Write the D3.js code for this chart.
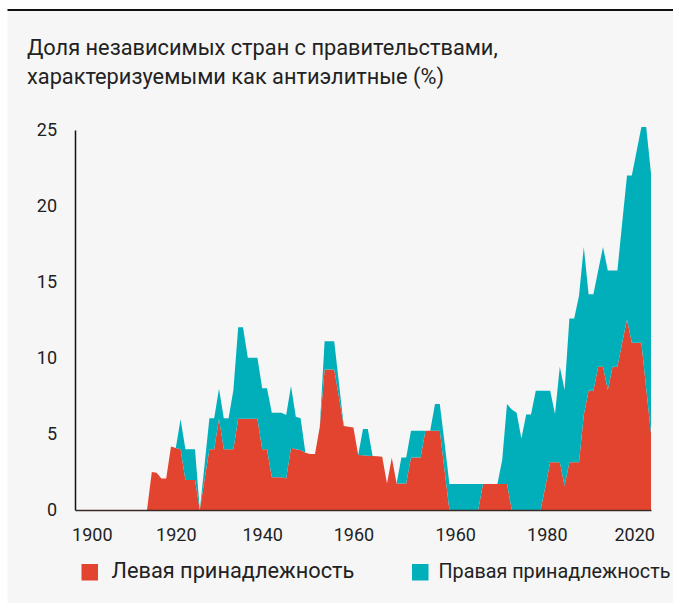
<!DOCTYPE html>
<html>
<head>
<meta charset="utf-8">
<script src="https://cdn.jsdelivr.net/npm/d3@7"></script>
<style>
  body { margin: 0; background: #fff; }
  svg { display: block; }
  .chart-text { font-family: Roboto, 'Open Sans', sans-serif; fill: #222; }
</style>
</head>
<body>
<div id="chart"></div>
<script>
// yearly values, 1900..2020, share of countries (%)
const years = d3.range(1900, 2021);

const leftShare = [
  0, 0, 0, 0, 0, 0, 0, 0, 0, 0,
  0, 0, 0, 0, 0, 0, 2.5, 2.45, 2.08, 2.08,
  4.17, 4.08, 4.0, 1.97, 1.97, 1.97, 0, 2.0, 4.0, 4.0,
  6.0, 4.0, 4.0, 4.0, 6.0, 6.0, 6.0, 6.0, 6.0, 4.0,
  4.0, 2.15, 2.15, 2.15, 2.08, 4.1, 4.0, 3.95, 3.77, 3.68,
  3.68, 5.48, 9.25, 9.25, 9.25, 7.4, 5.53, 5.48, 5.42, 3.62,
  3.6, 3.57, 3.55, 3.53, 3.51, 1.75, 3.44, 1.75, 1.75, 1.75,
  3.46, 3.46, 3.46, 5.22, 5.22, 5.22, 5.22, 2.6, 0, 0,
  0, 0, 0, 0, 0, 1.71, 1.71, 1.71, 1.71, 1.71,
  1.71, 0, 0, 0, 0, 0, 0, 0, 1.57, 3.14,
  3.14, 3.14, 1.6, 3.14, 3.14, 3.14, 6.25, 7.85, 7.85, 9.43,
  9.43, 7.9, 9.43, 9.43, 11.0, 12.54, 11.0, 11.0, 11.0, 8.0,
  5.04
];

const rightShare = [
  0, 0, 0, 0, 0, 0, 0, 0, 0, 0,
  0, 0, 0, 0, 0, 0, 0, 0, 0, 0,
  0, 0, 1.97, 2.02, 2.02, 2.02, 0, 1.0, 2.04, 2.04,
  1.97, 2.04, 2.04, 3.9, 6.03, 6.03, 4.01, 4.01, 4.01, 4.01,
  4.01, 4.25, 4.25, 4.25, 4.17, 4.06, 2.14, 2.08, 0, 0,
  0, 0, 1.85, 1.85, 1.85, 0.9, 0, 0, 0, 0,
  1.73, 1.76, 0, 0, 0, 0, 0, 0, 1.71, 1.71,
  1.76, 1.76, 1.76, 0, 0, 1.75, 1.75, 1.8, 1.71, 1.71,
  1.71, 1.71, 1.71, 1.71, 1.71, 0, 0, 0, 0, 1.58,
  5.26, 6.62, 6.4, 4.71, 6.29, 6.29, 7.85, 7.85, 6.28, 4.71,
  3.18, 6.29, 6.3, 9.46, 9.46, 10.96, 11.05, 6.35, 6.35, 6.32,
  7.87, 7.85, 6.32, 6.32, 7.9, 9.46, 11.0, 12.6, 14.2, 17.2,
  17.1
];

const seriesKeys = ['left', 'right'];
const seriesNames = ['Левая принадлежность', 'Правая принадлежность'];

const yTicks = [0, 5, 10, 15, 20, 25];
// x labels sit where the original put them (and with its labels, "1960" twice)
const xTickYears = [1903.5, 1921, 1939, 1958, 1979.2, 1998.3, 2016.5];
const xTickLabels = ['1900', '1920', '1940', '1960', '1960', '1980', '2020'];

const titleLines = [
  'Доля независимых стран с правительствами,',
  'характеризуемыми как антиэлитные (%)'
];

class AreaChart {

  constructor(_config) {
    this.config = {
      parentElement: _config.parentElement,
      containerWidth: 673,
      containerHeight: 603,
      margin: {top: 130, right: 22, bottom: 93, left: 75},
      colors: ['#e2442f', '#00afba'],
      bg: '#f6f6f6',
      legendX: [81.5, 412],
      legendWidth: [243, 232]
    };
    this.data = years.map((y, i) => ({year: y, left: leftShare[i], right: rightShare[i]}));
    this.initVis();
  }

  initVis() {
    let vis = this;
    const c = vis.config;
    c.width = c.containerWidth - c.margin.left - c.margin.right;
    c.height = c.containerHeight - c.margin.top - c.margin.bottom;

    vis.svg = d3.select(c.parentElement).append('svg')
        .attr('width', c.containerWidth)
        .attr('height', c.containerHeight);

    // grey panel + black rule on top
    vis.svg.append('rect')
        .attr('x', 7.5).attr('y', 10)
        .attr('width', c.containerWidth - 7.5)
        .attr('height', c.containerHeight - 10)
        .attr('fill', c.bg);
    vis.svg.append('line')
        .attr('x1', 7.5).attr('x2', c.containerWidth)
        .attr('y1', 10).attr('y2', 10)
        .attr('stroke', '#111').attr('stroke-width', 2);

    // title
    vis.title = vis.svg.append('g').attr('class', 'chart-text');
    vis.title.selectAll('text')
        .data(titleLines)
      .join('text')
        .attr('x', 27)
        .attr('y', (d, i) => 55 + i * 29)
        .attr('font-size', 20)
        .text(d => d);
    vis.fitFont(vis.title.selectAll('text'), vis.title.select('text').node(), 471);

    vis.chart = vis.svg.append('g')
        .attr('transform', `translate(${c.margin.left},${c.margin.top})`);

    vis.xScale = d3.scaleLinear()
        .domain([1900, 2020])
        .range([0, c.width]);
    vis.yScale = d3.scaleLinear()
        .domain([0, 25])
        .range([c.height, 0]);

    vis.stack = d3.stack().keys(seriesKeys);
    vis.area = d3.area()
        .x(d => vis.xScale(d.data.year))
        .y0(d => vis.yScale(d[0]))
        .y1(d => vis.yScale(d[1]));

    vis.renderVis();
  }

  // scale font size so that the reference node gets the wanted width
  fitFont(sel, node, targetWidth) {
    const w = node.getComputedTextLength();
    const fs = parseFloat(node.getAttribute('font-size'));
    sel.attr('font-size', fs * targetWidth / w);
  }

  renderVis() {
    let vis = this;
    const c = vis.config;

    vis.chart.selectAll('.layer')
        .data(vis.stack(vis.data))
      .join('path')
        .attr('class', 'layer')
        .attr('fill', (d, i) => c.colors[i])
        .attr('d', vis.area);

    // y axis
    const yAxis = d3.axisLeft(vis.yScale)
        .tickValues(yTicks)
        .tickSize(0)
        .tickSizeOuter(0)
        .tickPadding(18);
    const yg = vis.chart.append('g').call(yAxis)
        .attr('font-family', null).attr('font-size', null);
    yg.select('.domain').attr('stroke', '#111').attr('stroke-width', 1.5);
    yg.selectAll('text')
        .attr('class', 'chart-text')
        .attr('font-size', 18);

    // x axis
    const xAxis = d3.axisBottom(vis.xScale)
        .tickValues(xTickYears)
        .tickFormat((d, i) => xTickLabels[i])
        .tickSize(0)
        .tickSizeOuter(0)
        .tickPadding(18);
    const xg = vis.chart.append('g')
        .attr('transform', `translate(0,${c.height})`)
        .call(xAxis)
        .attr('font-family', null).attr('font-size', null);
    xg.select('.domain').attr('stroke', '#3a2a25').attr('stroke-width', 1.5);
    xg.selectAll('text')
        .attr('class', 'chart-text')
        .attr('font-size', 18);

    // legend
    const legend = vis.svg.selectAll('.legend-item')
        .data(seriesNames)
      .join('g')
        .attr('class', 'legend-item')
        .attr('transform', (d, i) => `translate(${c.legendX[i]},564)`);
    legend.append('rect')
        .attr('width', 16.5)
        .attr('height', 16.5)
        .attr('fill', (d, i) => c.colors[i]);
    legend.append('text')
        .attr('class', 'chart-text')
        .attr('x', (d, i) => i === 0 ? 30 : 26.5)
        .attr('y', 14)
        .attr('font-size', 20)
        .text(d => d)
        .each(function(d, i) {
          vis.fitFont(d3.select(this), this, c.legendWidth[i]);
        });
  }
}

const areaChart = new AreaChart({parentElement: '#chart'});
</script>
</body>
</html>
